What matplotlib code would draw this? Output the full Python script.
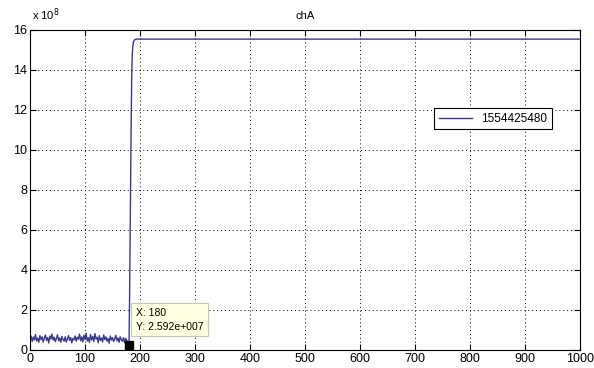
import matplotlib
matplotlib.use("Agg")
import matplotlib.pyplot as plt
import numpy as np

plt.rcParams['font.family'] = ['Liberation Sans', 'DejaVu Sans']

# noise section, x = 0..178 step 2 (units of 1e8)
noise_x = list(range(0, 180, 2))
noise_y = [0.55, 0.70, 0.42, 0.65, 0.50, 0.78, 0.45, 0.60, 0.38, 0.72,
           0.52, 0.66, 0.40, 0.58, 0.75, 0.48, 0.62, 0.35, 0.70, 0.55,
           0.80, 0.50, 0.64, 0.42, 0.58, 0.76, 0.46, 0.60, 0.38, 0.68,
           0.52, 0.44, 0.66, 0.40, 0.56, 0.72, 0.48, 0.62, 0.36, 0.58,
           0.50, 0.70, 0.44, 0.64, 0.54, 0.80, 0.46, 0.66, 0.40, 0.74,
           0.52, 0.84, 0.45, 0.62, 0.38, 0.78, 0.50, 0.68, 0.42, 0.82,
           0.55, 0.64, 0.36, 0.72, 0.48, 0.60, 0.40, 0.76, 0.52, 0.66,
           0.44, 0.58, 0.34, 0.70, 0.50, 0.62, 0.42, 0.56, 0.74, 0.46,
           0.60, 0.38, 0.66, 0.52, 0.44, 0.62, 0.36, 0.58, 0.48, 0.40]
rise_x = [180, 181, 182, 183, 184, 185, 186, 187, 188, 190, 193, 1000]
rise_y = [0.2592, 2.5, 5.5, 8.5, 11.5, 13.8, 14.8, 15.2, 15.4, 15.5, 15.544, 15.5443]

x = noise_x + rise_x
y = noise_y + rise_y

tip_x = 180
tip_y = 0.2592

xticks = list(range(0, 1001, 100))
yticks = list(range(0, 17, 2))
legend_label = '1554425480'
title = 'chA'

fig = plt.figure(figsize=(5.94, 3.68), dpi=100)
ax = fig.add_axes([30/594, 18/368, 550/594, 320/368])
line_color = '#3a3a8c'
ax.plot(x, y, color=line_color, lw=1.0, label=legend_label)
ax.set_xlim(0, 1000)
ax.set_ylim(0, 16)
ax.set_xticks(xticks)
ax.set_yticks(yticks)
ax.tick_params(direction='in', top=True, right=True, labelsize=9, length=4, pad=2, width=0.8)
ax.grid(True, linestyle=(0, (1, 3)), color='black', lw=0.7)
for s in ax.spines.values():
    s.set_linewidth(0.8)
ax.set_title(title, fontsize=8, pad=8)
fig.text(32/594, 1 - 15/368, r'x 10$^{8}$', fontsize=8, va='center', ha='left')

# data tip
ax.plot([tip_x], [tip_y], marker='s', color='black', ms=6, zorder=5)
ax.text(192, 1.52, 'X: %d\nY: 2.592e+007' % tip_x, fontsize=7.5, va='center', ha='left',
        linespacing=1.5,
        bbox=dict(boxstyle='square,pad=0.45', fc='#ffffe1', ec='#c8c8b4', lw=0.8), zorder=6)

leg = ax.legend(loc='upper right', bbox_to_anchor=(552/594, 1 - 108/368), bbox_transform=fig.transFigure,
                fontsize=8.5, frameon=True, fancybox=False, edgecolor='black', handlelength=2.8,
                borderpad=0.4, borderaxespad=0, framealpha=1)
leg.get_frame().set_linewidth(0.8)

fig.savefig('out.png', dpi=100)
